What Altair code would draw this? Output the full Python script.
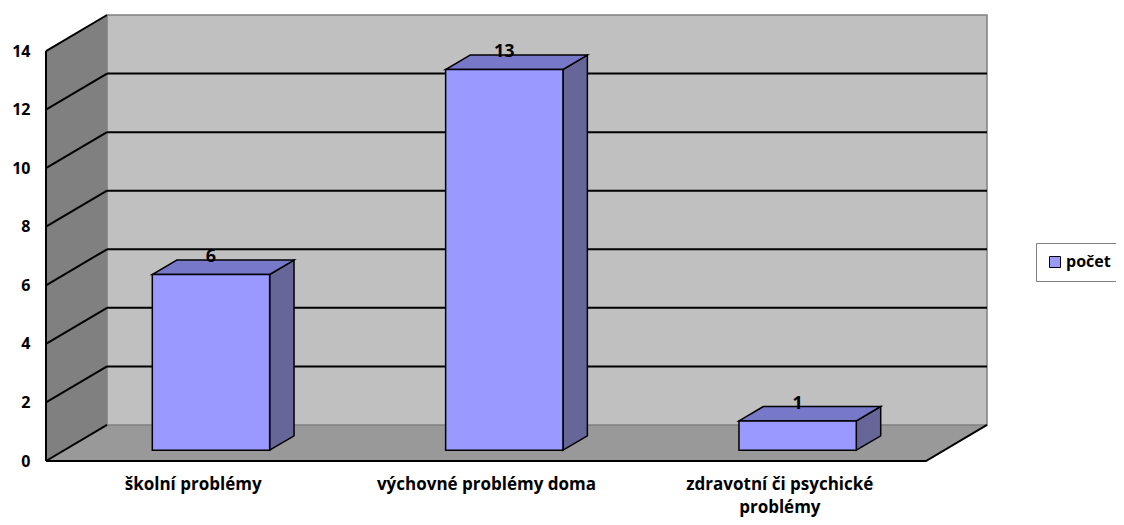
import json
import altair as alt
import pandas as pd

# ---- data ----
categories = ["školní problémy", "výchovné problémy doma", "zdravotní či psychické problémy"]
category_lines = [["školní problémy"], ["výchovné problémy doma"], ["zdravotní či psychické", "problémy"]]
values = [6, 13, 1]
series_name = "počet"
y_ticks = [0, 2, 4, 6, 8, 10, 12, 14]
y_max = 14

# ---- 3D projection constants (in data units) ----
DX = 0.208   # depth shift along x (category units)
DY = 1.23    # depth shift along y (value units)
D0, D1 = 0.3, 0.7   # bar depth range
B0, B1 = 0.3, 0.7   # bar extent inside category band
n = len(categories)

FONT = "Open Sans"

label_expr = json.dumps(category_lines, ensure_ascii=False) + "[floor(datum.value)]"

xs = alt.Scale(domain=[0, n + DX], nice=False, zero=False)
ys = alt.Scale(domain=[0, y_max + DY], nice=False, zero=False)
x_axis = alt.Axis(values=[i + 0.5 for i in range(n)], labelExpr=label_expr, title=None,
                  ticks=False, domain=False, grid=False, labelPadding=15, labelLimit=400,
                  labelFont=FONT, labelFontSize=17, labelFontWeight="bold",
                  labelColor="black", labelLineHeight=23, labelBaseline="top")
y_axis = alt.Axis(values=y_ticks, title=None, ticks=False, domain=False, grid=False,
                  labelPadding=16, labelFont=FONT, labelFontSize=16,
                  labelFontWeight="bold", labelColor="black")


def X(f):
    return alt.X(f, type="quantitative", scale=xs, axis=x_axis)


def Y(f):
    return alt.Y(f, type="quantitative", scale=ys, axis=y_axis)


# floor
floor_df = pd.DataFrame([{"y": d * DY, "x": d * DX, "x2": n + d * DX} for d in (0, 1)])
floor = alt.Chart(floor_df).mark_area(orient="horizontal", color="#999999").encode(
    y=Y("y"), x=X("x"), x2="x2")

# back wall
back_df = pd.DataFrame([{"x": DX, "x2": n + DX, "y": DY, "y2": y_max + DY}])
back = alt.Chart(back_df).mark_rect(fill="#C0C0C0", stroke="#808080", strokeWidth=1.5).encode(
    x=X("x"), x2="x2", y=Y("y"), y2="y2")

# left wall
left_df = pd.DataFrame([{"x": d * DX, "y": d * DY, "y2": y_max + d * DY} for d in (0, 1)])
left = alt.Chart(left_df).mark_area(orient="vertical", color="#808080").encode(
    x=X("x"), y=Y("y"), y2="y2")

# back wall grid lines
bgrid_df = pd.DataFrame([{"x": DX, "x2": n + DX, "y": k + DY} for k in y_ticks[1:-1]])
bgrid = alt.Chart(bgrid_df).mark_rule(color="black", strokeWidth=2).encode(
    x=X("x"), x2="x2", y=Y("y"))

# left wall grid lines
lgrid_df = pd.DataFrame([{"k": k, "x": d * DX, "y": k + d * DY} for k in y_ticks for d in (0, 1)])
lgrid = alt.Chart(lgrid_df).mark_line(color="black", strokeWidth=2).encode(
    x=X("x"), y=Y("y"), detail="k:N")

# floor front and right edges
edge_df = pd.DataFrame([{"o": 0, "x": 0, "y": 0}, {"o": 1, "x": n, "y": 0}, {"o": 2, "x": n + DX, "y": DY}])
edge = alt.Chart(edge_df).mark_line(color="black", strokeWidth=2).encode(
    x=X("x"), y=Y("y"), order="o:O")

# front value axis line
vaxis_df = pd.DataFrame([{"x": 0, "y": 0, "y2": y_max}])
vaxis = alt.Chart(vaxis_df).mark_rule(color="black", strokeWidth=2).encode(
    x=X("x"), y=Y("y"), y2="y2")

# bars
side_rows, top_rows, front_rows, lab_rows = [], [], [], []
for i, (c, v) in enumerate(zip(categories, values)):
    for d in (D0, D1):
        side_rows.append({"c": c, "x": i + B1 + d * DX, "y": d * DY, "y2": v + d * DY})
        top_rows.append({"c": c, "y": v + d * DY, "x": i + B0 + d * DX, "x2": i + B1 + d * DX})
    front_rows.append({"c": c, "s": series_name, "x": i + B0 + D0 * DX, "x2": i + B1 + D0 * DX,
                       "y": D0 * DY, "y2": v + D0 * DY})
    lab_rows.append({"c": c, "v": v, "x": i + 0.5 + D0 * DX, "y": v + D1 * DY})

side = alt.Chart(pd.DataFrame(side_rows)).mark_area(
    orient="vertical", fill="#666699", stroke="black", strokeWidth=1.5).encode(
    x=X("x"), y=Y("y"), y2="y2", detail="c:N")
top = alt.Chart(pd.DataFrame(top_rows)).mark_area(
    orient="horizontal", fill="#7878C8", stroke="black", strokeWidth=1.5).encode(
    y=Y("y"), x=X("x"), x2="x2", detail="c:N")
front = alt.Chart(pd.DataFrame(front_rows)).mark_rect(stroke="black", strokeWidth=1.5).encode(
    x=X("x"), x2="x2", y=Y("y"), y2="y2",
    color=alt.Color("s:N", scale=alt.Scale(domain=[series_name], range=["#9999FF"]),
                    legend=alt.Legend(title=None, orient="none", legendX=990, legendY=228,
                                      symbolType="square", symbolSize=121,
                                      symbolStrokeColor="black", symbolStrokeWidth=1,
                                      labelFont=FONT, labelFontSize=16, labelFontWeight="bold",
                                      labelColor="black", strokeColor="#808080",
                                      padding=11, symbolOffset=0, labelOffset=3)))
labels = alt.Chart(pd.DataFrame(lab_rows)).mark_text(
    baseline="alphabetic", font=FONT, fontSize=18, fontWeight="bold", color="black", dy=2).encode(
    x=X("x"), y=Y("y"), text="v:Q")

chart = alt.layer(floor, back, left, bgrid, lgrid, edge, vaxis, side, top, front, labels).properties(
    width=941, height=446,
    autosize=alt.AutoSizeParams(type="none"),
    padding={"left": 38, "top": 7, "right": 129, "bottom": 56},
    background="white",
).configure_view(stroke=None)

chart.save("out.html", embed_options={"renderer": "svg", "actions": False})
